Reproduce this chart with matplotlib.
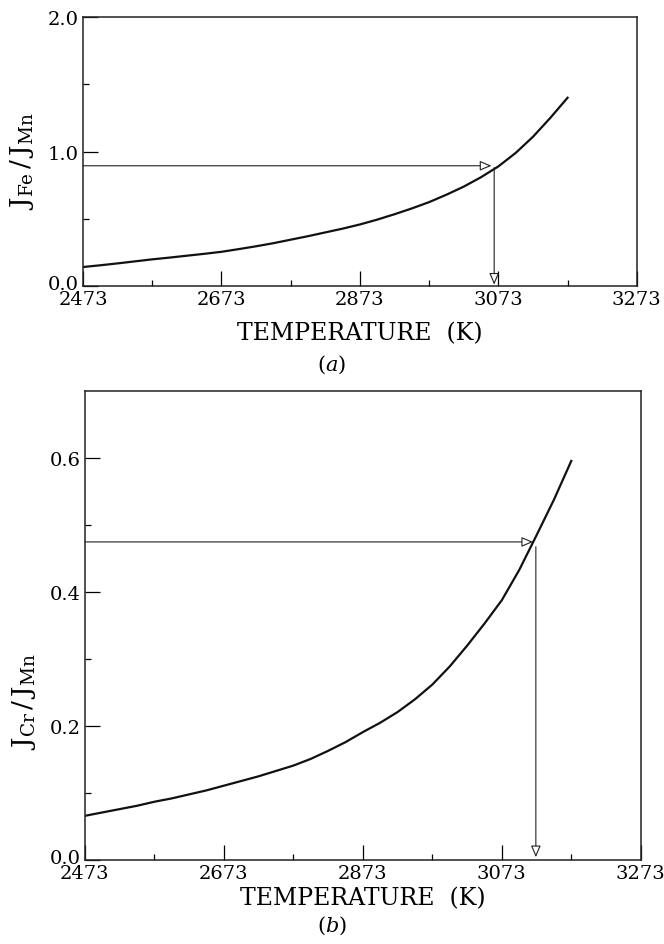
import matplotlib
matplotlib.use("Agg")
import matplotlib.pyplot as plt
from matplotlib.ticker import FixedLocator
from matplotlib.transforms import ScaledTranslation

plt.rcParams['font.family'] = ['DejaVu Serif']
plt.rcParams['mathtext.fontset'] = 'dejavuserif'

# temperatures (K)
temp = [2473, 2498, 2523, 2548, 2573, 2598, 2623, 2648, 2673, 2698, 2723, 2748, 2773, 2798, 2823,
        2848, 2873, 2898, 2923, 2948, 2973, 2998, 3023, 3048, 3073, 3098, 3123, 3148, 3173]
# (a) J_Fe / J_Mn
ratio_fe = [0.143, 0.156, 0.170, 0.185, 0.200, 0.213, 0.227, 0.241, 0.256, 0.276, 0.297, 0.320, 0.346, 0.372, 0.400,
            0.428, 0.459, 0.495, 0.535, 0.578, 0.625, 0.680, 0.740, 0.810, 0.890, 0.990, 1.11, 1.25, 1.40]
# (b) J_Cr / J_Mn
ratio_cr = [0.066, 0.071, 0.076, 0.081, 0.087, 0.092, 0.098, 0.104, 0.111, 0.118, 0.125, 0.133, 0.141, 0.151, 0.163,
            0.176, 0.191, 0.205, 0.221, 0.240, 0.262, 0.289, 0.320, 0.353, 0.388, 0.433, 0.485, 0.538, 0.596]

# read-out arrows: (target ratio, temperature)
fe_target, fe_temp = 0.895, 3063
cr_target, cr_temp = 0.475, 3118

xticks = [2473, 2673, 2873, 3073, 3273]

fig = plt.figure(figsize=(6.64, 9.45), dpi=100)
ax1 = fig.add_axes([0.125, 0.696, 0.834, 0.285])
ax2 = fig.add_axes([0.128, 0.0889, 0.837, 0.496])


def style(ax, ymaj, ymin, ytop, ylabels, xpad):
    ax.set_xlim(2473, 3273)
    ax.set_ylim(0, ytop)
    ax.xaxis.set_major_locator(FixedLocator(xticks))
    ax.xaxis.set_minor_locator(FixedLocator([2573, 2773, 2973, 3173]))
    ax.yaxis.set_major_locator(FixedLocator(ymaj))
    ax.yaxis.set_minor_locator(FixedLocator(ymin))
    ax.set_xticklabels([str(t) for t in xticks])
    ax.set_yticklabels(ylabels)
    ax.tick_params(which='major', direction='in', length=11, width=0.9, labelsize=14, pad=3)
    ax.tick_params(which='minor', direction='in', length=4, width=0.9)
    for s in ax.spines.values():
        s.set_linewidth(1.1)
        s.set_color('#222222')
    ax.set_xlabel('TEMPERATURE  (K)', fontsize=17, labelpad=xpad)
    # the 0.0 label sits a little above the axis line
    zero = ax.yaxis.get_major_ticks()[0].label1
    zero.set_transform(zero.get_transform() + ScaledTranslation(0, 3 / 72, fig.dpi_scale_trans))


def readout(ax, target, t):
    arrow = dict(arrowstyle='-|>,head_length=0.7,head_width=0.3', fc='white', ec='#222222',
                 lw=0.8, mutation_scale=10, shrinkA=0, shrinkB=0)
    ax.annotate('', xy=(t, target), xytext=(2473, target), arrowprops=arrow)
    ax.annotate('', xy=(t + 4, 0.006 * ax.get_ylim()[1]), xytext=(t + 4, target * 0.985), arrowprops=arrow)


# (a)
ax1.plot(temp, ratio_fe, color='#111111', lw=1.6)
style(ax1, [0, 1, 2], [0.5, 1.5], 2.0, ['0.0', '1.0', '2.0'], 9)
readout(ax1, fe_target, fe_temp)
ax1.set_ylabel(r'$\mathregular{J_{Fe}\,/\,J_{Mn}}$', fontsize=19)
ax1.yaxis.set_label_coords(-0.085, 0.47)
fig.text(0.5, 1 - 365 / 945, r'$(\mathit{a})$', ha='center', va='center', fontsize=15)

# (b)
ax2.plot(temp, ratio_cr, color='#111111', lw=1.6)
style(ax2, [0, 0.2, 0.4, 0.6], [0.1, 0.3, 0.5], 0.7, ['0.0', '0.2', '0.4', '0.6'], 3)
readout(ax2, cr_target, cr_temp)
ax2.set_ylabel(r'$\mathregular{J_{Cr}\,/\,J_{Mn}}$', fontsize=19)
ax2.yaxis.set_label_coords(-0.085, 0.34)
fig.text(0.5, 1 - 926 / 945, r'$(\mathit{b})$', ha='center', va='center', fontsize=15)

fig.savefig('out.png', dpi=100)
